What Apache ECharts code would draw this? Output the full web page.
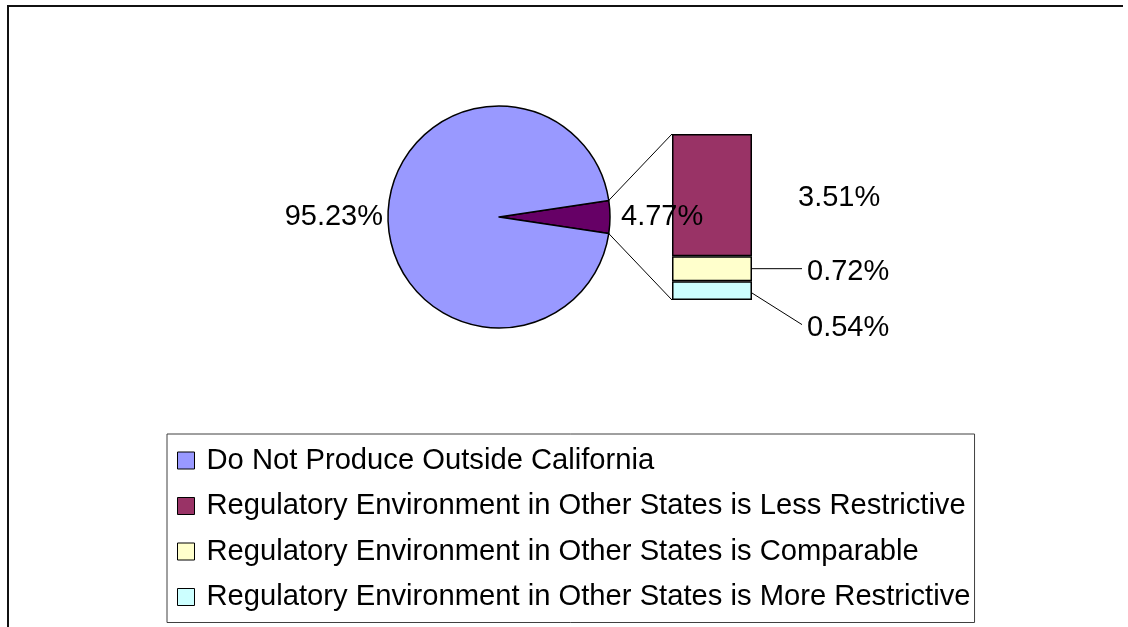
<!DOCTYPE html>
<html>
<head>
<meta charset="utf-8">
<script src="https://cdn.jsdelivr.net/npm/echarts@6/dist/echarts.min.js"></script>
<style>
html,body{margin:0;padding:0;background:#fff;}
#chart{width:1128px;height:627px;}
</style>
</head>
<body>
<div id="chart"></div>
<script>
// ---- data ----
const legendNames = [
  'Do Not Produce Outside California',
  'Regulatory Environment in Other States is Less Restrictive',
  'Regulatory Environment in Other States is Comparable',
  'Regulatory Environment in Other States is More Restrictive'
];
const pieNames = ['Do Not Produce Outside California', 'Produce Outside California'];
const pieValues = [95.23, 4.77];
const barNames = [
  'Regulatory Environment in Other States is Less Restrictive',
  'Regulatory Environment in Other States is Comparable',
  'Regulatory Environment in Other States is More Restrictive'
];
const barValues = [3.51, 0.72, 0.54];

// ---- styles ----
const FONT = "'Liberation Sans', Arial, sans-serif";
const LABEL_SIZE = 29;
const LEGEND_SIZE = 29.2;
const pieColors = ['#9999FF', '#660066'];
const barColors = ['#993366', '#FFFFCC', '#CCFFFF'];
const PIE_CENTER = [499, 217];
const PIE_R = 111;
const GRID = {left: 672, top: 134, width: 80, height: 166};

const smallShare = pieValues[1];
const halfAngle = smallShare / 100 * 360 / 2;
const barTotal = barValues.reduce((a, b) => a + b, 0);

const chart = echarts.init(document.getElementById('chart'), null, {renderer: 'canvas'});

// bar series stacked bottom-up: More, Comparable, Less
const barSeries = [];
const labelCfg = [
  {distance: 46, offset: [0, 3]},
  {distance: 55, offset: [0, 3]},
  {distance: 55, offset: [0, 37]}
];
for (let k = barNames.length - 1; k >= 0; k--) {
  barSeries.push({
    type: 'bar',
    name: barNames[k],
    stack: 'sub',
    z: 1,
    barWidth: '100%',
    data: [barValues[k]],
    itemStyle: {color: barColors[k], borderColor: '#000', borderWidth: 1.5},
    label: {
      show: true,
      position: 'right',
      distance: labelCfg[k].distance,
      offset: labelCfg[k].offset,
      formatter: p => p.value.toFixed(2) + '%',
      color: '#000',
      fontSize: LABEL_SIZE,
      fontFamily: FONT
    },
    emphasis: {disabled: true}
  });
}

const option = {
  animation: false,
  backgroundColor: '#fff',
  textStyle: {fontFamily: FONT},
  legend: {
    orient: 'vertical',
    left: 167,
    top: 434,
    data: legendNames,
    padding: [12, 4, 11, 10],
    borderColor: '#404040',
    borderWidth: 1,
    icon: 'rect',
    itemWidth: 17,
    itemHeight: 17,
    itemGap: 16.5,
    itemStyle: {borderColor: '#000', borderWidth: 1},
    textStyle: {fontSize: LEGEND_SIZE, lineHeight: 28, color: '#000', fontFamily: FONT, padding: [0, 0, 0, 7]},
    selectedMode: false
  },
  grid: {left: GRID.left, top: GRID.top, width: GRID.width, height: GRID.height},
  xAxis: {type: 'category', data: [''], show: false},
  yAxis: {type: 'value', min: 0, max: barTotal, show: false},
  series: [
    {
      type: 'pie',
      z: 3,
      center: PIE_CENTER,
      radius: PIE_R,
      startAngle: halfAngle,
      clockwise: true,
      avoidLabelOverlap: false,
      emphasis: {disabled: true},
      itemStyle: {borderColor: '#000', borderWidth: 1.5},
      label: {
        show: true,
        position: 'outside',
        formatter: p => p.value.toFixed(2) + '%',
        color: '#000',
        fontSize: LABEL_SIZE,
        fontFamily: FONT,
        alignTo: 'none'
      },
      labelLine: {show: false, length: 0, length2: 0},
      data: [
        {name: pieNames[1], value: pieValues[1], itemStyle: {color: pieColors[1]}, labelLine: {show: false, length: 6, length2: 0}},
        {name: pieNames[0], value: pieValues[0], itemStyle: {color: pieColors[0]}}
      ]
    }
  ].concat(barSeries)
};

chart.setOption(option);

// connector and leader lines, computed from the pie layout and the bar axis
function yPix(v) { return chart.convertToPixel({yAxisIndex: 0}, v); }
const rad = halfAngle * Math.PI / 180;
const pTop = [PIE_CENTER[0] + PIE_R * Math.cos(rad), PIE_CENTER[1] - PIE_R * Math.sin(rad)];
const pBot = [PIE_CENTER[0] + PIE_R * Math.cos(rad), PIE_CENTER[1] + PIE_R * Math.sin(rad)];
const barLeft = GRID.left, barRight = GRID.left + GRID.width;
const yTop = yPix(barTotal), yBot = yPix(0);
const yComp = yPix(barValues[2] + barValues[1] / 2);
const yMore = yPix(barValues[2] * 0.37);
const yMoreLabel = yPix(barValues[2] / 2) + 34;

const lineStyle = {stroke: '#000', lineWidth: 1};
chart.setOption({
  graphic: [
    {type: 'polyline', silent: true, z: 10, shape: {points: [[8, 627], [8, 6], [1123, 6]]}, style: {stroke: '#111', lineWidth: 2, fill: null}},
    {type: 'line', silent: true, z: 0, shape: {x1: pTop[0], y1: pTop[1], x2: barLeft, y2: yTop}, style: lineStyle},
    {type: 'line', silent: true, z: 0, shape: {x1: pBot[0], y1: pBot[1], x2: barLeft, y2: yBot}, style: lineStyle},
    {type: 'line', silent: true, z: 0, shape: {x1: barRight, y1: yComp, x2: barRight + 50, y2: yComp}, style: lineStyle},
    {type: 'line', silent: true, z: 0, shape: {x1: barRight, y1: yMore, x2: barRight + 50, y2: yMoreLabel}, style: lineStyle}
  ]
});
</script>
</body>
</html>
